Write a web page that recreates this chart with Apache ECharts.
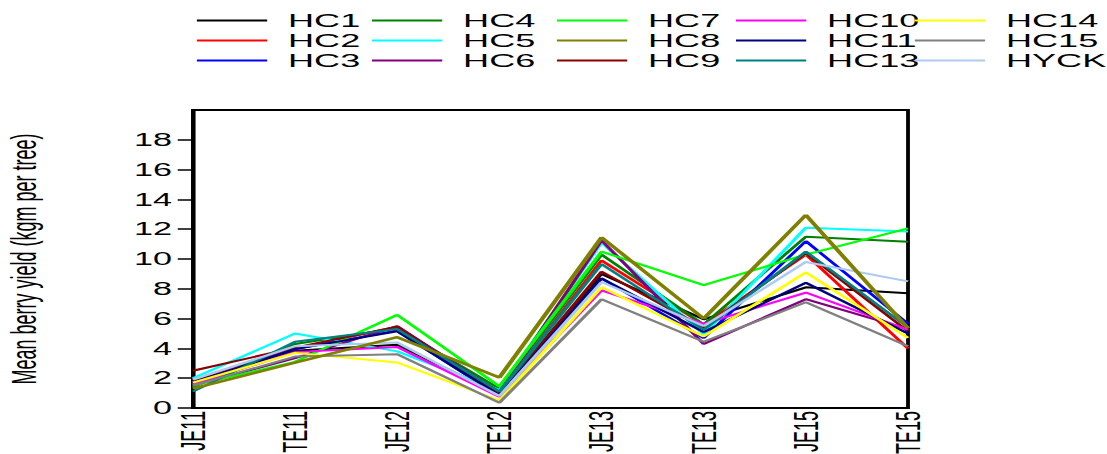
<!DOCTYPE html>
<html>
<head>
<meta charset="utf-8">
<script src="https://cdn.jsdelivr.net/npm/echarts@6/dist/echarts.min.js"></script>
<style>
html,body{margin:0;padding:0;background:#fff;overflow:hidden;}
#main{width:583px;height:454px;transform:scaleX(1.8988);transform-origin:0 0;}
</style>
</head>
<body>
<div id="main"></div>
<script>
const categories = ['JE11','TE11','JE12','TE12','JE13','TE13','JE15','TE15'];
const yTicks = [0,2,4,6,8,10,12,14,16,18];
const seriesNames = ['HC1','HC2','HC3','HC4','HC5','HC6','HC7','HC8','HC9','HC10','HC11','HC13','HC14','HC15','HYCK'];
const seriesColors = ['#000000','#FF0000','#0000FF','#008000','#00FFFF','#800080','#00FF00','#808000','#8B0000','#FF00FF','#000080','#008080','#FFFF00','#808080','#ADCBEF'];

const HC1  = [1.8, 3.85, 4.25, 0.9, 9.0, 5.95, 8.1, 7.7];
const HC2  = [1.9, 4.0, 5.45, 1.0, 9.9, 5.6, 10.3, 4.0];
const HC3  = [1.7, 3.95, 5.2, 0.8, 8.7, 4.7, 11.2, 5.65];
const HC4  = [1.4, 4.3, 5.35, 1.3, 10.3, 5.6, 11.5, 11.15];
const HC5  = [2.0, 5.0, 3.8, 1.2, 11.1, 4.95, 12.1, 11.85];
const HC6  = [1.5, 3.35, 5.5, 1.05, 11.25, 4.3, 7.3, 5.3];
const HC7  = [1.5, 3.1, 6.25, 1.45, 10.5, 8.25, 10.3, 12.05];
const HC8  = [1.3, 3.05, 4.75, 2.05, 11.45, 6.0, 12.95, 5.35];
const HC9  = [2.5, 4.05, 5.45, 0.95, 9.15, 5.4, 10.4, 5.15];
const HC10 = [1.6, 3.75, 4.1, 0.75, 7.9, 5.65, 7.75, 5.25];
const HC11 = [1.7, 3.95, 5.15, 0.85, 8.7, 5.1, 8.4, 5.0];
const HC13 = [1.1, 4.45, 5.3, 1.1, 9.65, 5.25, 10.5, 5.4];
const HC14 = [1.7, 3.7, 3.05, 0.5, 8.1, 4.8, 9.1, 4.7];
const HC15 = [1.5, 3.45, 3.6, 0.35, 7.3, 4.45, 7.1, 4.15];
const HYCK = [1.9, 4.15, 4.4, 0.8, 8.45, 5.5, 9.8, 8.5];

const seriesData = [HC1,HC2,HC3,HC4,HC5,HC6,HC7,HC8,HC9,HC10,HC11,HC13,HC14,HC15,HYCK];

const font = "'Liberation Sans', Arial, sans-serif";
const legendLefts = [102.7, 194.9, 292.3, 386.6, 480.8];
const legends = legendLefts.map((lx, c) => ({
  orient: 'vertical',
  left: lx,
  top: 11,
  itemWidth: 37,
  itemHeight: 14,
  itemGap: 1,
  padding: 0,
  itemStyle: {opacity: 0},
  textStyle: {fontFamily: font, fontSize: 19, color: '#000', padding: [0, 0, 0, 6]},
  data: seriesNames.slice(c * 3, c * 3 + 3)
}));

const chart = echarts.init(document.getElementById('main'), null, {renderer: 'svg'});
chart.setOption({
  animation: false,
  backgroundColor: '#fff',
  legend: legends,
  grid: {
    left: 101.6, right: 104.8, top: 110, bottom: 46,
    show: true, borderColor: '#000', borderWidth: 2, containLabel: false,
    outerBoundsMode: 'none'
  },
  xAxis: {
    type: 'category',
    data: categories,
    boundaryGap: false,
    axisLine: {lineStyle: {color: '#000', width: 2}},
    axisTick: {show: false},
    axisLabel: {rotate: 90, margin: 3, color: '#000', fontFamily: font, fontSize: 18, interval: 0},
    splitLine: {show: false}
  },
  yAxis: {
    type: 'value',
    min: 0, max: 20, interval: 2,
    name: 'Mean berry yield (kgm per tree)',
    nameLocation: 'middle',
    nameGap: 80,
    nameRotate: 90,
    nameTextStyle: {fontFamily: font, fontSize: 18, color: '#000'},
    axisLine: {show: true, lineStyle: {color: '#000', width: 2}},
    axisTick: {show: true, length: 8, lineStyle: {color: '#000', width: 1.5}, customValues: yTicks},
    axisLabel: {margin: 11, color: '#000', fontFamily: font, fontSize: 18, customValues: yTicks},
    splitLine: {show: false}
  },
  series: seriesNames.map((n, i) => ({
    name: n,
    type: 'line',
    data: seriesData[i],
    symbol: 'none',
    showSymbol: false,
    color: seriesColors[i],
    lineStyle: {width: n === 'HC8' ? 2.5 : 2, color: seriesColors[i]},
    z: n === 'HC8' ? 3 : 2
  }))
});
</script>
</body>
</html>
